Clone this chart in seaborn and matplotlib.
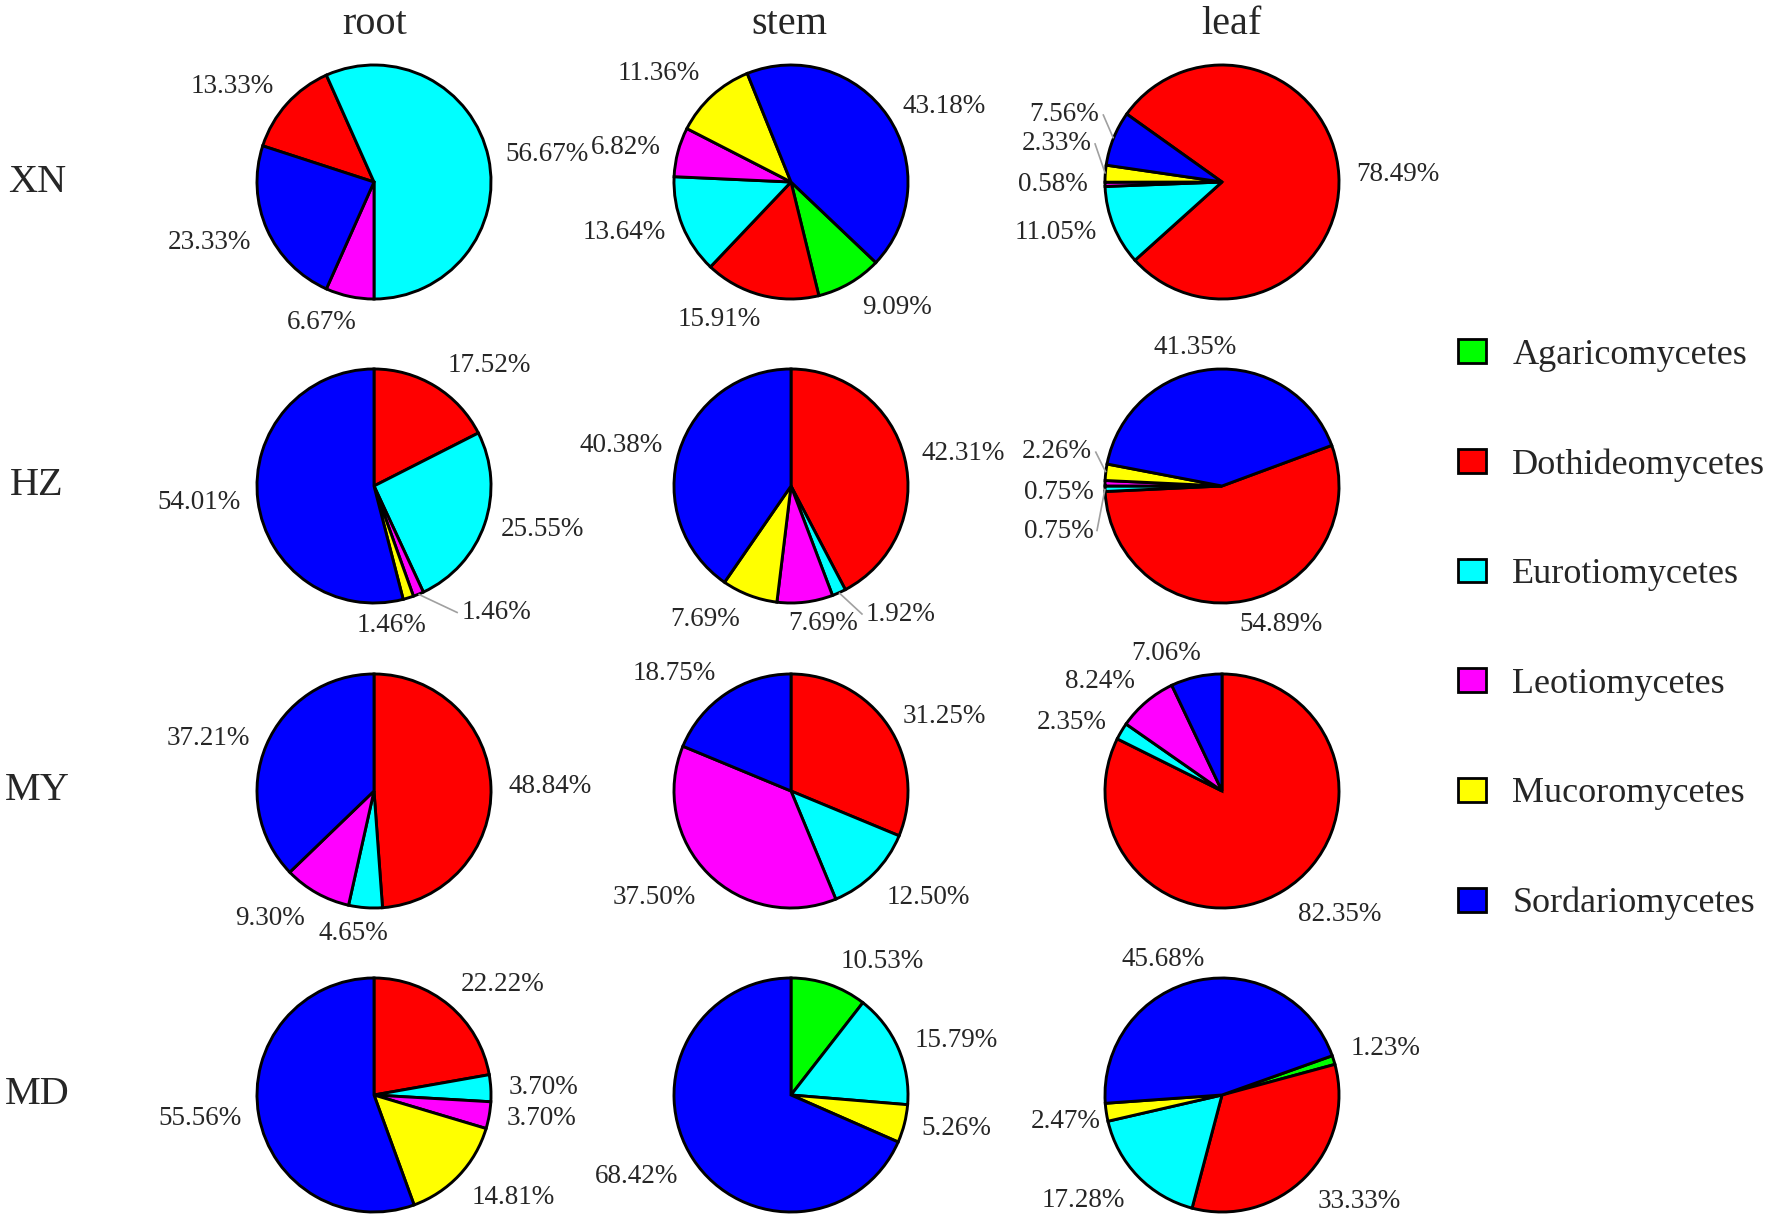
import numpy as np
import matplotlib.pyplot as plt
import seaborn as sns
from matplotlib.patches import Patch

sns.set_theme(style='white')
plt.rcParams['font.family'] = ['Liberation Serif', 'DejaVu Serif']

# fungal classes and their colours
CLASSES = ['Agaricomycetes', 'Dothideomycetes', 'Eurotiomycetes',
           'Leotiomycetes', 'Mucoromycetes', 'Sordariomycetes']
SHORT = ['A', 'D', 'E', 'L', 'M', 'S']
palette = sns.color_palette(['#00ff00', '#ff0000', '#00ffff',
                             '#ff00ff', '#ffff00', '#0000ff'])

SITES = ['XN', 'HZ', 'MY', 'MD']
ORGANS = ['root', 'stem', 'leaf']

# relative abundance (%) per class, order as CLASSES, 0 = absent
xn_root = [0, 13.33, 56.67, 6.67, 0, 23.33]
xn_stem = [9.09, 15.91, 13.64, 6.82, 11.36, 43.18]
xn_leaf = [0, 78.49, 11.05, 0.58, 2.33, 7.56]
hz_root = [0, 17.52, 25.55, 1.46, 1.46, 54.01]
hz_stem = [0, 42.31, 1.92, 7.69, 7.69, 40.38]
hz_leaf = [0, 54.89, 0.75, 0.75, 2.26, 41.35]
my_root = [0, 48.84, 4.65, 9.30, 0, 37.21]
my_stem = [0, 31.25, 12.50, 37.50, 0, 18.75]
my_leaf = [0, 82.35, 2.35, 8.24, 0, 7.06]
md_root = [0, 22.22, 3.70, 3.70, 14.81, 55.56]
md_stem = [10.53, 0, 15.79, 0, 5.26, 68.42]
md_leaf = [1.23, 33.33, 17.28, 0, 2.47, 45.68]

data = {
    ('XN', 'root'): xn_root, ('XN', 'stem'): xn_stem, ('XN', 'leaf'): xn_leaf,
    ('HZ', 'root'): hz_root, ('HZ', 'stem'): hz_stem, ('HZ', 'leaf'): hz_leaf,
    ('MY', 'root'): my_root, ('MY', 'stem'): my_stem, ('MY', 'leaf'): my_leaf,
    ('MD', 'root'): md_root, ('MD', 'stem'): md_stem, ('MD', 'leaf'): md_leaf,
}

# where the first slice starts (degrees clockwise from 12 o'clock)
start_cw = {('XN', 'root'): -72, ('XN', 'stem'): 133.5, ('XN', 'leaf'): 305.5,
            ('HZ', 'leaf'): 69.7, ('MD', 'leaf'): 70.4}

# label tweaks in pie-radius units, and which labels get a leader line
nudge = {
    'XN-root-D': (0, 0.05), 'XN-root-L': (0.09, -0.08), 'XN-root-S': (0, -0.05),
    'XN-stem-A': (0.03, -0.08), 'XN-stem-D': (0.04, -0.06), 'XN-stem-M': (0, 0.08),
    'XN-leaf-M': (0.03, 0.25), 'XN-leaf-S': (0.02, 0.15),
    'HZ-root-D': (0.03, 0.05), 'HZ-root-L': (0.31, -0.02), 'HZ-root-M': (-0.49, -0.09),
    'HZ-stem-E': (0.17, -0.05), 'HZ-stem-L': (-0.16, -0.03), 'HZ-stem-M': (-0.03, -0.07),
    'HZ-leaf-S': (0.22, 0.04), 'HZ-leaf-D': (-0.08, -0.06), 'HZ-leaf-E': (0.05, -0.36),
    'HZ-leaf-L': (0.05, -0.08), 'HZ-leaf-M': (0.03, 0.16),
    'MY-root-E': (0.21, -0.07), 'MY-root-L': (-0.03, -0.09),
    'MY-stem-E': (0, -0.1), 'MY-stem-L': (0, -0.1), 'MY-stem-S': (0, 0.05),
    'MY-leaf-D': (0.04, -0.08), 'MY-leaf-L': (0, 0.06), 'MY-leaf-S': (0.07, 0.05),
    'MD-root-D': (0, 0.06), 'MD-root-M': (0, -0.09),
    'MD-stem-A': (0.05, 0.05), 'MD-stem-S': (0, -0.07),
    'MD-leaf-A': (0, 0.05), 'MD-leaf-D': (0, -0.1), 'MD-leaf-E': (0, -0.1),
    'MD-leaf-M': (0.1, -0.06), 'MD-leaf-S': (0.09, 0.03),
}
leaders = {'XN-leaf-M', 'XN-leaf-S', 'HZ-root-L', 'HZ-stem-E',
           'HZ-leaf-E', 'HZ-leaf-M'}

W, H = 1772, 1220
fig = plt.figure(figsize=(W / 100, H / 100), dpi=100)

R = 117
col_x = {'root': 374, 'stem': 791, 'leaf': 1222}
row_y = {'XN': 182, 'HZ': 486, 'MY': 791, 'MD': 1095}
LD = 1.15

for site in SITES:
    for organ in ORGANS:
        vals = np.array(data[(site, organ)])
        keep = vals > 0
        sizes = vals[keep]
        cols = [c for c, k in zip(palette, keep) if k]
        codes = [s for s, k in zip(SHORT, keep) if k]

        cx, cy = col_x[organ], row_y[site]
        ax = fig.add_axes([(cx - R) / W, 1 - (cy + R) / H, 2 * R / W, 2 * R / H])
        wedges, _ = ax.pie(sizes, colors=cols, counterclock=False,
                           startangle=90 - start_cw.get((site, organ), 0),
                           wedgeprops=dict(edgecolor='black', linewidth=2.1))
        ax.set_xlim(-1, 1)
        ax.set_ylim(-1, 1)
        ax.set_aspect('equal')
        ax.axis('off')

        for w, v, code in zip(wedges, sizes, codes):
            mid = np.deg2rad((w.theta1 + w.theta2) / 2)
            ux, uy = np.cos(mid), np.sin(mid)
            key = f'{site}-{organ}-{code}'
            dx, dy = nudge.get(key, (0, 0))
            tx, ty = LD * ux + dx, LD * uy + dy
            ha = 'left' if LD * ux > 0 else 'right'
            ax.text(tx, ty, f'{v:.2f}%', ha=ha, va='center', fontsize=19.5)
            if key in leaders:
                side = -1 if ha == 'left' else 1
                ax.plot([ux, tx + 0.03 * side], [uy, ty], color='#a0a0a0',
                        lw=1.2, clip_on=False, solid_capstyle='butt')

# column titles and row labels
for organ, x in zip(ORGANS, [375, 789, 1231]):
    fig.text(x / W, 1 - 24 / H, organ, ha='center', va='center', fontsize=29)
for site in SITES:
    fig.text(37 / W, 1 - row_y[site] / H, site, ha='center', va='center', fontsize=29)

handles = [Patch(facecolor=c, edgecolor='black', linewidth=2) for c in palette]
fig.legend(handles, CLASSES, loc='center left',
           bbox_to_anchor=(1458 / W, 1 - 629.5 / H), frameon=False,
           fontsize=26, handlelength=0.78, handleheight=0.64,
           handletextpad=0.72, labelspacing=2.12, borderpad=0, borderaxespad=0)

fig.savefig('out.png', dpi=100, facecolor='white')
